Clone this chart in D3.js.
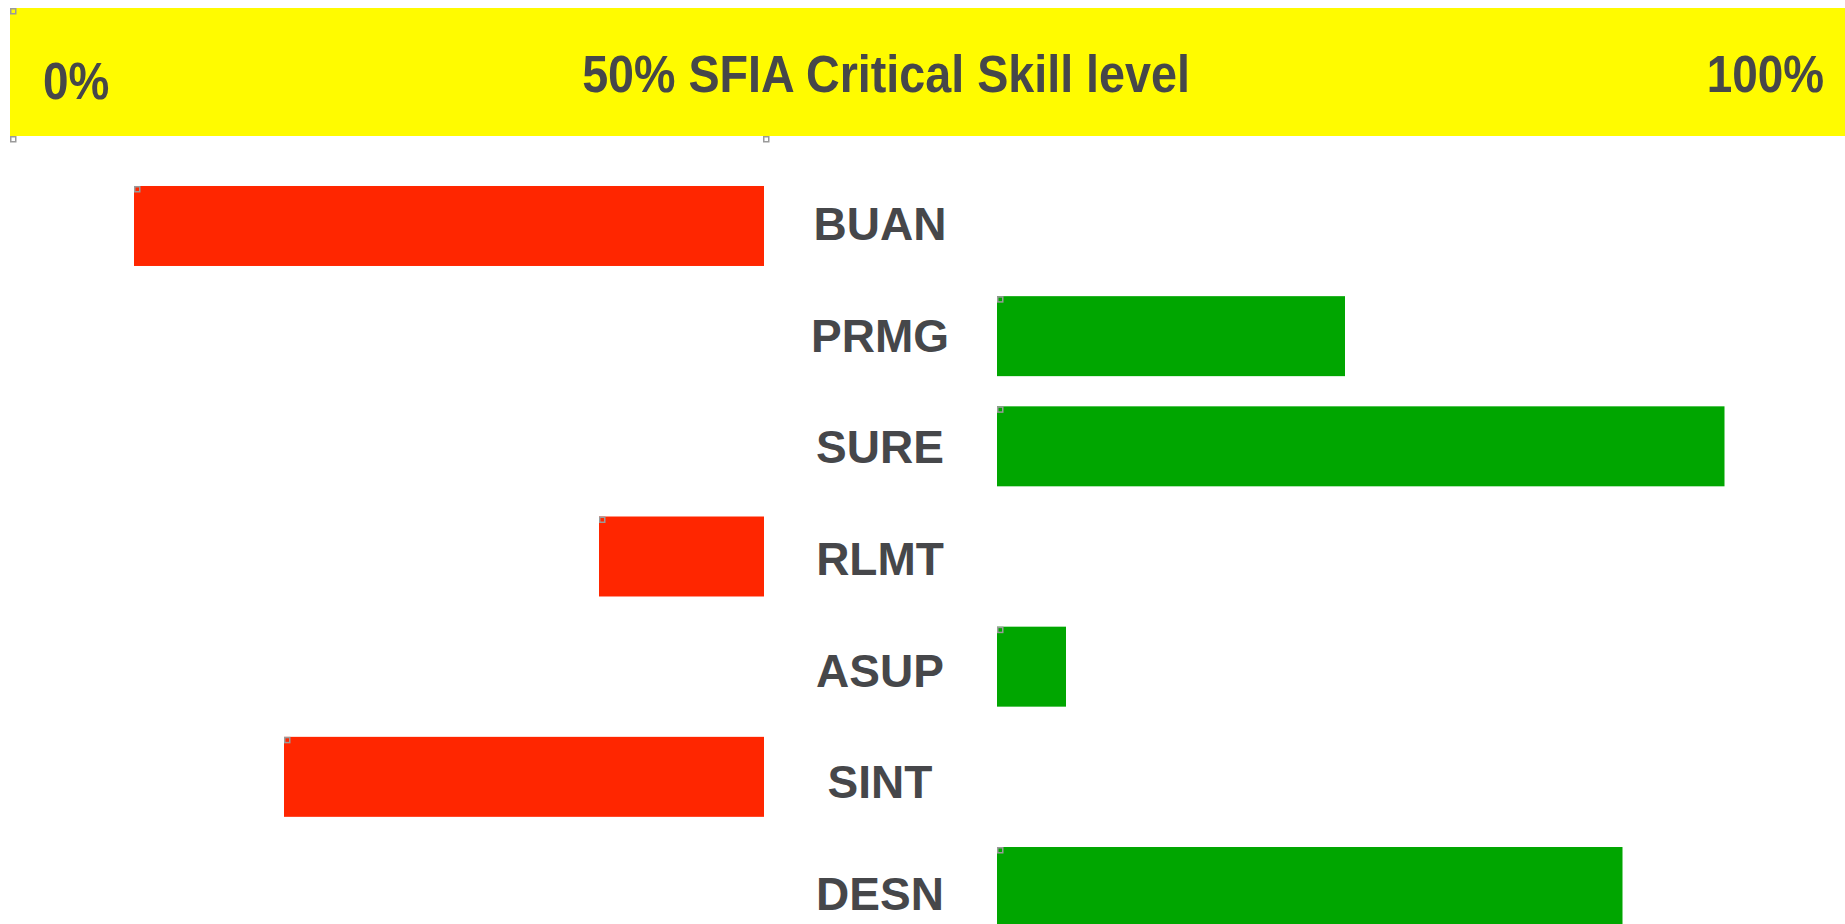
<!DOCTYPE html>
<html>
<head>
<meta charset="utf-8">
<script src="https://cdn.jsdelivr.net/npm/d3@7"></script>
<style>
html,body{margin:0;padding:0;background:#fff;overflow:hidden;}
svg{display:block;}
text{font-family:"Liberation Sans",Arial,Helvetica,sans-serif;font-weight:bold;fill:#46474a;}
</style>
</head>
<body>
<svg id="chart" width="1845" height="924"></svg>
<script>
// ---- data ----
const categories = ["BUAN", "PRMG", "SURE", "RLMT", "ASUP", "SINT", "DESN"];
const scores = [8, 73.2, 98.5, 39, 54.6, 18, 91.7];   // percent skill level
const threshold = 50;
const bannerTitle = "50% SFIA Critical Skill level";
const bannerMin = "0%";
const bannerMax = "100%";

const W = 1845, H = 924;
const svg = d3.select("#chart");

const red = "#ff2600", green = "#00a600", yellow = "#fffb00";

// banner
svg.append("rect").attr("x", 10).attr("y", 8).attr("width", W - 10).attr("height", 128).attr("fill", yellow);

function squeezed(txt, x, y, anchor, size, sx) {
  svg.append("text")
    .attr("transform", `translate(${x},${y}) scale(${sx},1)`)
    .attr("text-anchor", anchor)
    .attr("font-size", size)
    .text(txt);
}
squeezed(bannerMin, 43, 99, "start", 51, 0.9);
squeezed(bannerTitle, 886, 92, "middle", 51, 0.915);
squeezed(bannerMax, 1824, 92, "end", 51, 0.9);

// scales
const y = d3.scaleBand().domain(categories)
  .range([170.9, 170.9 + 110.17 * categories.length])
  .paddingInner(0.274).paddingOuter(0.137);
const yLabel = d3.scalePoint().domain(categories).range([240, 910]);
const xLeft = d3.scaleLinear().domain([0, threshold]).range([14, 764]);
const xRight = d3.scaleLinear().domain([threshold, 100]).range([997, 1747]);

const data = categories.map((c, i) => ({ cat: c, v: scores[i] }));

svg.append("g").selectAll("rect").data(data).join("rect")
  .attr("x", d => d.v < threshold ? xLeft(d.v) : xRight(threshold))
  .attr("y", d => y(d.cat))
  .attr("width", d => d.v < threshold ? xLeft(threshold) - xLeft(d.v) : xRight(d.v) - xRight(threshold))
  .attr("height", y.bandwidth())
  .attr("fill", d => d.v < threshold ? red : green);

// selection handles (decorative)
const handles = [
  { x: 10, y: 8 }, { x: 10, y: 136 }, { x: 763, y: 136 }
].concat(data.map(d => ({ x: d.v < threshold ? xLeft(d.v) : xRight(threshold), y: y(d.cat) })));
svg.append("g").selectAll("rect").data(handles).join("rect")
  .attr("x", d => d.x + 0.75).attr("y", d => d.y + 0.75)
  .attr("width", 5).attr("height", 5)
  .attr("fill", "none").attr("stroke", "#9a9a9a").attr("stroke-width", 1.5);

// labels
svg.append("g").selectAll("text").data(data).join("text")
  .attr("x", 880)
  .attr("y", d => yLabel(d.cat))
  .attr("text-anchor", "middle")
  .attr("font-size", 46)
  .text(d => d.cat);
</script>
</body>
</html>
